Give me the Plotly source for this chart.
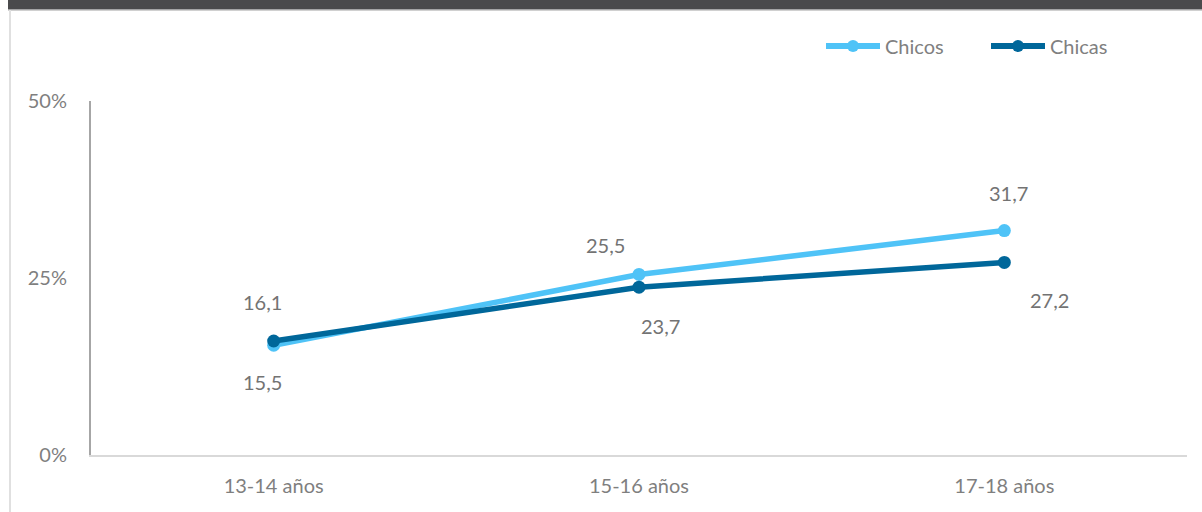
import plotly.graph_objects as go

categories = ["13-14 años", "15-16 años", "17-18 años"]
chicos = [15.5, 25.5, 31.7]
chicas = [16.1, 23.7, 27.2]
chicos_labels = ["15,5", "25,5", "31,7"]
chicas_labels = ["16,1", "23,7", "27,2"]
y_ticks = [0, 25, 50]
y_tick_labels = ["0%", "25%", "50%"]

# label offsets (pixels) relative to each point
chicos_off = [(-11, 37), (-34, -29), (4, -38)]
chicas_off = [(-11, -39), (21, 39), (45, 38)]

C_CHICOS = "#4FC3F7"
C_CHICAS = "#00679A"
FONT = "Lato, Open Sans, sans-serif"
TXT = "#7f7f7f"

L, R, T, B = 91, 15, 101, 57
W, H = 1202, 512
PW, PH = W - L - R, H - T - B


def px(x):
    return (x - L) / PW


def py(y):
    return (H - B - y) / PH


fig = go.Figure()
fig.add_trace(go.Scatter(x=categories, y=chicos, name="Chicos", mode="lines+markers",
                         line=dict(color=C_CHICOS, width=5.5),
                         marker=dict(color=C_CHICOS, size=13), showlegend=False))
fig.add_trace(go.Scatter(x=categories, y=chicas, name="Chicas", mode="lines+markers",
                         line=dict(color=C_CHICAS, width=5.5),
                         marker=dict(color=C_CHICAS, size=13), showlegend=False))

annotations = []
for vals, labs, offs in ((chicos, chicos_labels, chicos_off), (chicas, chicas_labels, chicas_off)):
    for c, v, t, (dx, dy) in zip(categories, vals, labs, offs):
        annotations.append(dict(x=c, y=v, text=t, showarrow=False, xshift=dx, yshift=-dy,
                                font=dict(size=20, color="#737373", family=FONT)))

shapes = [
    dict(type="rect", xref="paper", yref="paper", x0=px(8), x1=px(1210), y0=py(9.5), y1=py(-5),
         fillcolor="#4a4a4c", line=dict(width=0), layer="above"),
    dict(type="line", xref="paper", yref="paper", x0=px(8), x1=px(1210), y0=py(10.5), y1=py(10.5),
         line=dict(color="#d0d0d0", width=1)),
    dict(type="line", xref="paper", yref="paper", x0=px(10), x1=px(10), y0=py(520), y1=py(10),
         line=dict(color="#e0e0e0", width=2)),
]

# custom legend
legend_items = [("Chicos", C_CHICOS, 826, 880), ("Chicas", C_CHICAS, 991, 1045)]
LY = 46
for name, col, x0, x1 in legend_items:
    shapes.append(dict(type="line", xref="paper", yref="paper", x0=px(x0), x1=px(x1),
                       y0=py(LY), y1=py(LY), line=dict(color=col, width=6), layer="above"))
    xc = (x0 + x1) / 2
    shapes.append(dict(type="circle", xref="paper", yref="paper", xsizemode="pixel",
                       ysizemode="pixel", xanchor=px(xc), yanchor=py(LY),
                       x0=-6, x1=6, y0=-6, y1=6, fillcolor=col, line=dict(width=0),
                       layer="above"))
    annotations.append(dict(xref="paper", yref="paper", x=px(x1 + 3), y=py(LY), text=name,
                            showarrow=False, xanchor="left", yanchor="middle",
                            font=dict(size=20, color="#808080", family=FONT)))

fig.update_layout(
    width=W, height=H,
    margin=dict(l=L, r=R, t=T, b=B),
    paper_bgcolor="white", plot_bgcolor="white",
    font=dict(family=FONT, color=TXT, size=20),
    showlegend=False,
    xaxis=dict(type="category", range=[-0.5, 2.5], showgrid=False, zeroline=False,
               showline=True, linecolor="#d9d9d9", linewidth=2, ticks="",
               ticklabelstandoff=12, tickfont=dict(size=20, color=TXT)),
    yaxis=dict(range=[0, 50], tickvals=y_ticks, ticktext=y_tick_labels, showgrid=False,
               zeroline=False, showline=True, linecolor="#a6a6a6", linewidth=2, ticks="",
               ticklabelstandoff=18, tickfont=dict(size=20, color=TXT)),
    annotations=annotations,
    shapes=shapes,
)

fig.write_html("out.html", config={"displayModeBar": False},
               post_script="document.body.style.margin='0';")
